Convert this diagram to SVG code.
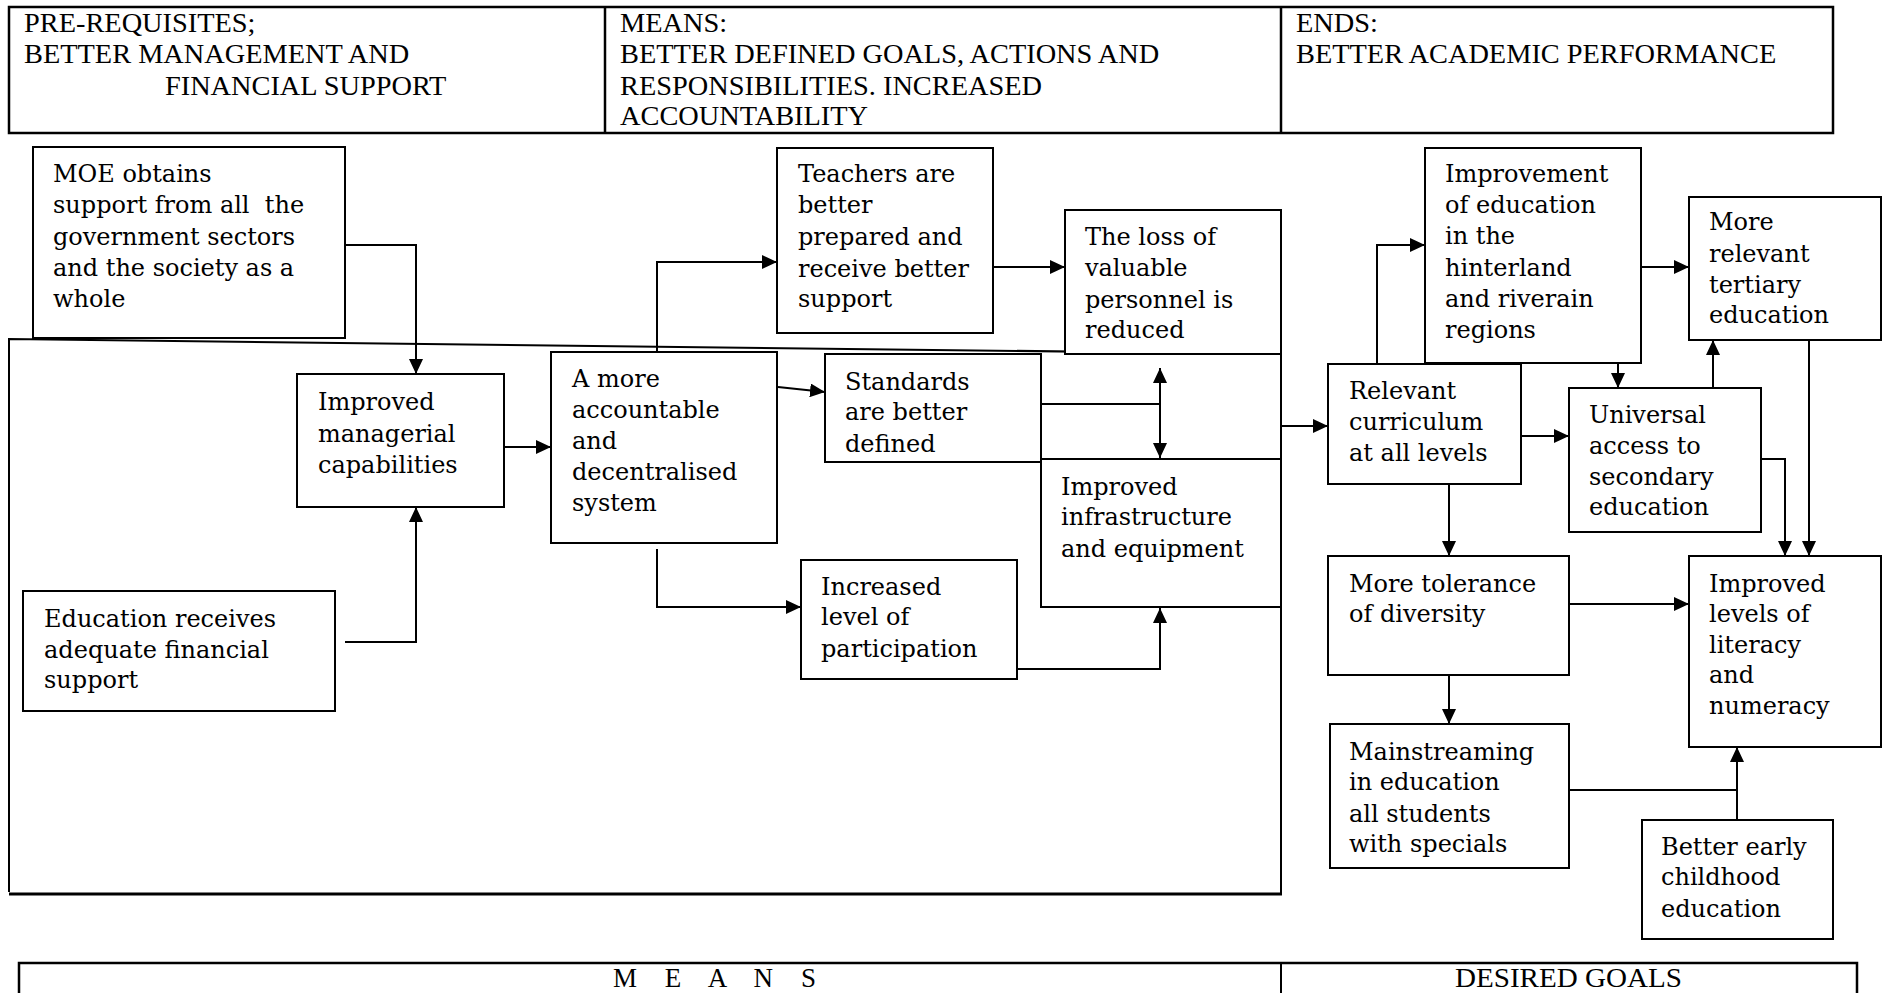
<svg xmlns="http://www.w3.org/2000/svg" width="1887" height="993" viewBox="0 0 1887 993">
<style>
.box{fill:#fff;stroke:#000;stroke-width:2}
.t{font-family:"DejaVu Serif","Liberation Serif",serif;font-size:24px;fill:#000}
.h{font-family:"Liberation Serif","Times New Roman",serif;font-size:27px;fill:#000}
.c{fill:none;stroke:#000;stroke-width:2;marker-end:url(#ah)}
.ln{fill:none;stroke:#000;stroke-width:2}
</style>
<defs>
<marker id="ah" markerUnits="userSpaceOnUse" markerWidth="15" markerHeight="14" refX="15" refY="7" orient="auto-start-reverse">
<path d="M0,0 L15,7 L0,14 z" fill="#000"/>
</marker>
</defs>
<rect width="1887" height="993" fill="#fff"/>

<g id="header">
<rect x="9" y="7" width="1824" height="126" fill="#fff" stroke="#000" stroke-width="2.5"/>
<line x1="605" y1="7" x2="605" y2="133" stroke="#000" stroke-width="2.5"/>
<line x1="1281" y1="7" x2="1281" y2="133" stroke="#000" stroke-width="2.5"/>
<g transform="scale(1.05 1)" class="h">
<text x="22.9" y="32">PRE-REQUISITES;</text>
<text x="22.9" y="63">BETTER MANAGEMENT AND</text>
<text x="157.1" y="95">FINANCIAL SUPPORT</text>
<text x="590.5" y="32">MEANS:</text>
<text x="590.5" y="63">BETTER DEFINED GOALS, ACTIONS AND</text>
<text x="590.5" y="95">RESPONSIBILITIES. INCREASED</text>
<text x="590.5" y="125">ACCOUNTABILITY</text>
<text x="1234.3" y="32">ENDS:</text>
<text x="1234.3" y="63">BETTER ACADEMIC PERFORMANCE</text>
</g>
</g>

<g id="means-frame">
<path d="M9,892 V339 L1281,354" fill="none" stroke="#000" stroke-width="2"/>
<line x1="1281" y1="354" x2="1281" y2="894" stroke="#000" stroke-width="2"/>
<line x1="9" y1="894" x2="1282" y2="894" stroke="#000" stroke-width="3"/>
</g>

<g id="footer">
<path d="M19,1000 V963 H1857 V1000" fill="#fff" stroke="#000" stroke-width="2.5"/>
<line x1="1281" y1="963" x2="1281" y2="1000" stroke="#000" stroke-width="2"/>
<text class="h" x="613" y="987" font-size="25" textLength="203" lengthAdjust="spacing">M E A N S</text>
<text class="h" x="1455" y="987" font-size="25" textLength="227" lengthAdjust="spacingAndGlyphs">DESIRED GOALS</text>
</g>

<g id="connectors">
<path class="c" d="M345,245 H416 V374"/>
<path class="c" d="M345,642 H416 V507"/>
<path class="c" d="M504,447 H551"/>
<path class="c" d="M657,357 V262 H777"/>
<path class="c" d="M778,387 L825,392"/>
<path class="c" d="M657,549 V607 H801"/>
<path class="c" d="M993,267 H1065"/>
<path class="ln" d="M1041,404 H1160"/>
<path class="c" d="M1160,368 V458" style="marker-start:url(#ah)"/>
<path class="c" d="M1017,669 H1160 V608"/>
<path class="c" d="M1281,426 H1328"/>
<path class="c" d="M1377,364 V245 H1425"/>
<path class="c" d="M1641,267 H1689"/>
<path class="c" d="M1618,340 V388"/>
<path class="c" d="M1713,388 V340"/>
<path class="c" d="M1809,340 V556"/>
<path class="c" d="M1761,459 H1785 V556"/>
<path class="c" d="M1521,436 H1569"/>
<path class="c" d="M1449,484 V556"/>
<path class="c" d="M1569,604 H1689"/>
<path class="c" d="M1449,675 V724"/>
<path class="ln" d="M1569,790 H1737"/>
<path class="c" d="M1737,820 V747"/>
</g>

<g id="moe">
<rect class="box" x="33" y="147" width="312" height="191"/>
<text class="t" xml:space="preserve"><tspan x="53" y="182">MOE obtains</tspan><tspan x="53" y="213">support from all  the</tspan><tspan x="53" y="245">government sectors</tspan><tspan x="53" y="276">and the society as a</tspan><tspan x="53" y="307">whole</tspan></text>
</g>

<g id="managerial">
<rect class="box" x="297" y="374" width="207" height="133"/>
<text class="t"><tspan x="318" y="410">Improved</tspan><tspan x="318" y="442">managerial</tspan><tspan x="318" y="473">capabilities</tspan></text>
</g>

<g id="accountable">
<rect class="box" x="551" y="352" width="226" height="191"/>
<text class="t"><tspan x="572" y="387">A more</tspan><tspan x="572" y="418">accountable</tspan><tspan x="572" y="449">and</tspan><tspan x="572" y="480">decentralised</tspan><tspan x="572" y="511">system</tspan></text>
</g>

<g id="teachers">
<rect class="box" x="777" y="148" width="216" height="185"/>
<text class="t"><tspan x="798" y="182">Teachers are</tspan><tspan x="798" y="213">better</tspan><tspan x="798" y="245">prepared and</tspan><tspan x="798" y="277">receive better</tspan><tspan x="798" y="307">support</tspan></text>
</g>

<g id="loss">
<rect class="box" x="1065" y="210" width="216" height="144"/>
<text class="t"><tspan x="1085" y="245">The loss of</tspan><tspan x="1085" y="276">valuable</tspan><tspan x="1085" y="308">personnel is</tspan><tspan x="1085" y="338">reduced</tspan></text>
</g>

<g id="standards">
<rect class="box" x="825" y="354" width="216" height="108"/>
<text class="t"><tspan x="845" y="390">Standards</tspan><tspan x="845" y="420">are better</tspan><tspan x="845" y="452">defined</tspan></text>
</g>

<g id="infrastructure">
<rect class="box" x="1041" y="459" width="240" height="148"/>
<text class="t"><tspan x="1061" y="495">Improved</tspan><tspan x="1061" y="525">infrastructure</tspan><tspan x="1061" y="557">and equipment</tspan></text>
</g>

<g id="participation">
<rect class="box" x="801" y="560" width="216" height="119"/>
<text class="t"><tspan x="821" y="595">Increased</tspan><tspan x="821" y="625">level of</tspan><tspan x="821" y="657">participation</tspan></text>
</g>

<g id="financial">
<rect class="box" x="23" y="591" width="312" height="120"/>
<text class="t"><tspan x="44" y="627">Education receives</tspan><tspan x="44" y="658">adequate financial</tspan><tspan x="44" y="688">support</tspan></text>
</g>

<g id="hinterland">
<rect class="box" x="1425" y="148" width="216" height="215"/>
<text class="t"><tspan x="1445" y="182">Improvement</tspan><tspan x="1445" y="213">of education</tspan><tspan x="1445" y="244">in the</tspan><tspan x="1445" y="276">hinterland</tspan><tspan x="1445" y="307">and riverain</tspan><tspan x="1445" y="338">regions</tspan></text>
</g>

<g id="tertiary">
<rect class="box" x="1689" y="197" width="192" height="143"/>
<text class="t"><tspan x="1709" y="230">More</tspan><tspan x="1709" y="262">relevant</tspan><tspan x="1709" y="293">tertiary</tspan><tspan x="1709" y="323">education</tspan></text>
</g>

<g id="curriculum">
<rect class="box" x="1328" y="364" width="193" height="120"/>
<text class="t"><tspan x="1349" y="399">Relevant</tspan><tspan x="1349" y="430">curriculum</tspan><tspan x="1349" y="461">at all levels</tspan></text>
</g>

<g id="universal">
<rect class="box" x="1569" y="388" width="192" height="144"/>
<text class="t"><tspan x="1589" y="423">Universal</tspan><tspan x="1589" y="454">access to</tspan><tspan x="1589" y="485">secondary</tspan><tspan x="1589" y="515">education</tspan></text>
</g>

<g id="tolerance">
<rect class="box" x="1328" y="556" width="241" height="119"/>
<text class="t"><tspan x="1349" y="592">More tolerance</tspan><tspan x="1349" y="622">of diversity</tspan></text>
</g>

<g id="literacy">
<rect class="box" x="1689" y="556" width="192" height="191"/>
<text class="t"><tspan x="1709" y="592">Improved</tspan><tspan x="1709" y="622">levels of</tspan><tspan x="1709" y="653">literacy</tspan><tspan x="1709" y="683">and</tspan><tspan x="1709" y="714">numeracy</tspan></text>
</g>

<g id="mainstreaming">
<rect class="box" x="1330" y="724" width="239" height="144"/>
<text class="t"><tspan x="1349" y="760">Mainstreaming</tspan><tspan x="1349" y="790">in education</tspan><tspan x="1349" y="822">all students</tspan><tspan x="1349" y="852">with specials</tspan></text>
</g>

<g id="early">
<rect class="box" x="1642" y="820" width="191" height="119"/>
<text class="t"><tspan x="1661" y="855">Better early</tspan><tspan x="1661" y="885">childhood</tspan><tspan x="1661" y="917">education</tspan></text>
</g>
</svg>
